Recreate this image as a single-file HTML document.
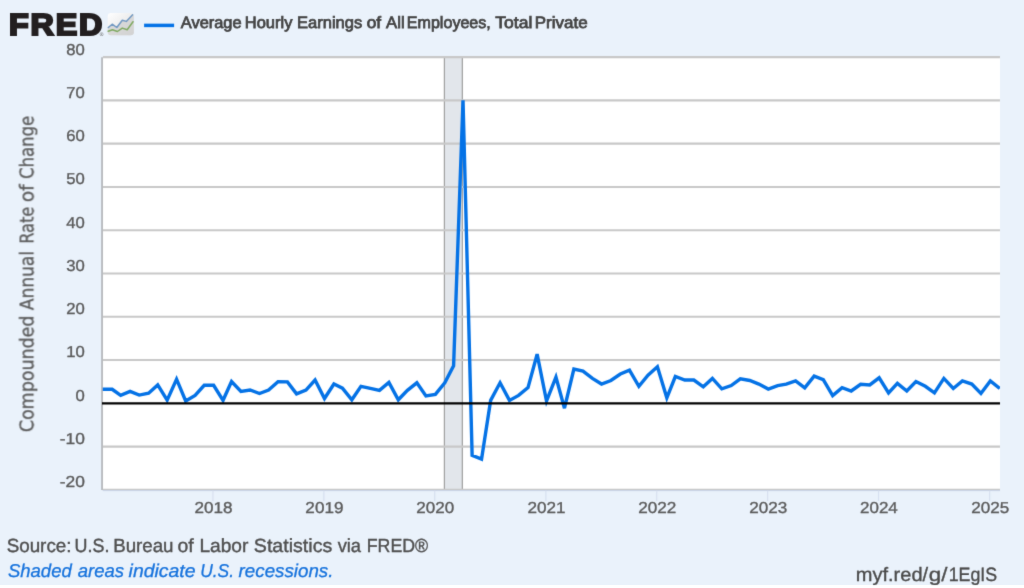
<!DOCTYPE html>
<html lang="en">
<head>
<meta charset="utf-8">
<title>Average Hourly Earnings of All Employees, Total Private</title>
<style>
html,body{margin:0;padding:0;background:#ffffff;}
body{width:1024px;height:588px;overflow:hidden;}
svg{display:block;}
text{font-family:"Liberation Sans","DejaVu Sans",sans-serif;text-rendering:geometricPrecision;}
.ax{font-size:15.8px;fill:#5a5a5a;stroke:#5a5a5a;stroke-width:0.35px;}
.ytitle{font-family:"DejaVu Sans Condensed","DejaVu Sans","Liberation Sans",sans-serif;font-stretch:condensed;font-size:19px;fill:#595959;stroke:#595959;stroke-width:0.3px;}
.legend{font-size:16.4px;fill:#434343;stroke:#434343;stroke-width:0.75px;}
.src{font-size:18.9px;fill:#4f4f4f;stroke:#4f4f4f;stroke-width:0.4px;}
.note{font-size:18.5px;font-style:italic;fill:#1672dc;stroke:#1672dc;stroke-width:0.3px;}
.url{font-size:19.3px;fill:#4a4a4a;stroke:#4a4a4a;stroke-width:0.35px;}
.logo{font-size:30.5px;font-weight:bold;fill:#231f20;stroke:#231f20;stroke-width:2.2px;stroke-linejoin:miter;}
</style>
</head>
<body>
<svg width="1024" height="588" viewBox="0 0 1024 588">
<defs>
<linearGradient id="ig" x1="0" y1="0" x2="1" y2="1">
<stop offset="0" stop-color="#ffffff"/><stop offset="0.55" stop-color="#ececec"/><stop offset="1" stop-color="#d2d2d2"/>
</linearGradient>
<clipPath id="pc"><rect x="102.0" y="57.1" width="898.0" height="432.6"/></clipPath>
<clipPath id="bc"><rect x="0" y="0" width="1024" height="585"/></clipPath>
<filter id="soft" filterUnits="userSpaceOnUse" x="0" y="0" width="1024" height="588" color-interpolation-filters="sRGB"><feConvolveMatrix order="3" kernelMatrix="0.0113 0.0838 0.0113 0.0838 0.6193 0.0838 0.0113 0.0838 0.0113" edgeMode="duplicate" preserveAlpha="false"/></filter>
</defs>
<rect x="0" y="0" width="1024" height="588" fill="#ffffff"/>
<rect x="0" y="0" width="1024" height="585" fill="#eaf2fb"/>
<g filter="url(#soft)">
<rect x="102.0" y="57.1" width="898.0" height="432.6" fill="#ffffff"/>
<rect x="444.40" y="57.1" width="17.95" height="432.6" fill="#e2e6eb"/>
<line x1="444.40" y1="57.1" x2="444.40" y2="489.7" stroke="#a2a2a2" stroke-width="1.25"/>
<line x1="462.35" y1="57.1" x2="462.35" y2="489.7" stroke="#a2a2a2" stroke-width="1.25"/>
<line x1="102.9" y1="489.80" x2="1000.0" y2="489.80" stroke="#c8c8c8" stroke-width="2.2"/>
<line x1="102.9" y1="446.54" x2="1000.0" y2="446.54" stroke="#c8c8c8" stroke-width="2.2"/>
<line x1="102.9" y1="360.02" x2="1000.0" y2="360.02" stroke="#c8c8c8" stroke-width="2.2"/>
<line x1="102.9" y1="316.76" x2="1000.0" y2="316.76" stroke="#c8c8c8" stroke-width="2.2"/>
<line x1="102.9" y1="273.50" x2="1000.0" y2="273.50" stroke="#c8c8c8" stroke-width="2.2"/>
<line x1="102.9" y1="230.24" x2="1000.0" y2="230.24" stroke="#c8c8c8" stroke-width="2.2"/>
<line x1="102.9" y1="186.98" x2="1000.0" y2="186.98" stroke="#c8c8c8" stroke-width="2.2"/>
<line x1="102.9" y1="143.72" x2="1000.0" y2="143.72" stroke="#c8c8c8" stroke-width="2.2"/>
<line x1="102.9" y1="100.46" x2="1000.0" y2="100.46" stroke="#c8c8c8" stroke-width="2.2"/>
<line x1="102.9" y1="57.20" x2="1000.0" y2="57.20" stroke="#c8c8c8" stroke-width="2.2"/>
<line x1="102.05" y1="57.3" x2="102.05" y2="490.1" stroke="#acafb3" stroke-width="1.6"/>
<line x1="102.8" y1="490.60" x2="1000.0" y2="490.60" stroke="#c9d4e9" stroke-width="1"/>
<line x1="212.97" y1="490.7" x2="212.97" y2="501.0" stroke="#d7e0f0" stroke-width="1.2"/>
<line x1="323.84" y1="490.7" x2="323.84" y2="501.0" stroke="#d7e0f0" stroke-width="1.2"/>
<line x1="434.72" y1="490.7" x2="434.72" y2="501.0" stroke="#d7e0f0" stroke-width="1.2"/>
<line x1="545.89" y1="490.7" x2="545.89" y2="501.0" stroke="#d7e0f0" stroke-width="1.2"/>
<line x1="656.76" y1="490.7" x2="656.76" y2="501.0" stroke="#d7e0f0" stroke-width="1.2"/>
<line x1="767.64" y1="490.7" x2="767.64" y2="501.0" stroke="#d7e0f0" stroke-width="1.2"/>
<line x1="878.51" y1="490.7" x2="878.51" y2="501.0" stroke="#d7e0f0" stroke-width="1.2"/>
<line x1="989.68" y1="490.7" x2="989.68" y2="501.0" stroke="#d7e0f0" stroke-width="1.2"/>
<polyline clip-path="url(#pc)" fill="none" stroke="#0472e6" stroke-width="3.4" stroke-linejoin="miter" stroke-miterlimit="4" stroke-linecap="butt" points="102.75,389.25 112.17,389.25 120.67,395.40 130.09,391.40 139.20,395.10 148.62,393.20 157.73,384.90 167.15,400.20 176.56,379.20 185.68,401.00 195.09,395.40 204.21,385.30 213.62,385.30 223.04,400.30 231.54,381.50 240.96,391.40 250.07,390.00 259.49,393.50 268.60,390.00 278.02,381.80 287.44,381.90 296.55,393.90 305.96,390.10 315.08,380.00 324.49,398.50 333.91,384.00 342.42,388.10 351.83,399.80 360.95,386.30 370.36,388.40 379.47,390.30 388.89,382.40 398.31,399.80 407.42,390.30 416.84,382.80 425.95,396.00 435.37,394.40 444.78,382.80 453.59,365.80 463.01,100.30 472.12,455.40 481.54,459.20 490.65,400.40 500.07,382.80 509.48,400.40 518.60,395.40 528.01,387.60 537.13,354.20 546.54,401.00 555.96,377.20 564.46,408.20 573.88,369.00 582.99,371.10 592.41,378.40 601.52,384.05 610.94,380.50 620.36,374.00 629.47,370.20 638.88,386.30 648.00,375.20 657.41,366.70 666.83,397.80 675.34,376.50 684.75,380.00 693.86,380.00 703.28,386.80 712.39,378.40 721.81,388.80 731.23,385.60 740.34,378.80 749.76,380.50 758.87,384.05 768.29,389.10 777.70,385.60 786.21,384.05 795.62,380.90 804.74,387.80 814.15,376.10 823.27,379.60 832.68,395.60 842.10,387.60 851.21,391.00 860.63,384.30 869.74,384.90 879.16,377.80 888.57,392.90 897.38,383.40 906.80,391.00 915.91,381.50 925.33,386.30 934.44,392.90 943.86,378.40 953.27,388.50 962.39,380.90 971.80,384.05 980.92,393.50 990.33,380.90 999.75,388.50"/>
<line x1="102.0" y1="403.30" x2="1000.0" y2="403.30" stroke="#000000" stroke-width="2.2"/>
<text class="ax" x="59.76" y="487.10" textLength="25.12" lengthAdjust="spacingAndGlyphs">-20</text>
<text class="ax" x="59.76" y="443.84" textLength="25.12" lengthAdjust="spacingAndGlyphs">-10</text>
<text class="ax" x="75.57" y="400.58" textLength="9.27" lengthAdjust="spacingAndGlyphs">0</text>
<text class="ax" x="66.31" y="357.32" textLength="18.54" lengthAdjust="spacingAndGlyphs">10</text>
<text class="ax" x="66.31" y="314.06" textLength="18.54" lengthAdjust="spacingAndGlyphs">20</text>
<text class="ax" x="66.31" y="270.80" textLength="18.54" lengthAdjust="spacingAndGlyphs">30</text>
<text class="ax" x="66.31" y="227.54" textLength="18.54" lengthAdjust="spacingAndGlyphs">40</text>
<text class="ax" x="66.31" y="184.28" textLength="18.54" lengthAdjust="spacingAndGlyphs">50</text>
<text class="ax" x="66.31" y="141.02" textLength="18.54" lengthAdjust="spacingAndGlyphs">60</text>
<text class="ax" x="66.31" y="97.76" textLength="18.54" lengthAdjust="spacingAndGlyphs">70</text>
<text class="ax" x="66.31" y="54.50" textLength="18.54" lengthAdjust="spacingAndGlyphs">80</text>
<text class="ax" x="194.52" y="512.5" textLength="37.99" lengthAdjust="spacingAndGlyphs">2018</text>
<text class="ax" x="305.39" y="512.5" textLength="38.06" lengthAdjust="spacingAndGlyphs">2019</text>
<text class="ax" x="416.26" y="512.5" textLength="37.91" lengthAdjust="spacingAndGlyphs">2020</text>
<text class="ax" x="527.44" y="512.5" textLength="38.09" lengthAdjust="spacingAndGlyphs">2021</text>
<text class="ax" x="638.31" y="512.5" textLength="38.12" lengthAdjust="spacingAndGlyphs">2022</text>
<text class="ax" x="749.18" y="512.5" textLength="38.00" lengthAdjust="spacingAndGlyphs">2023</text>
<text class="ax" x="860.06" y="512.5" textLength="37.74" lengthAdjust="spacingAndGlyphs">2024</text>
<text class="ax" x="971.23" y="512.5" textLength="37.96" lengthAdjust="spacingAndGlyphs">2025</text>
<text class="ytitle" transform="translate(33.4,432.2) rotate(-90)"><tspan x="0.00" textLength="116.70" lengthAdjust="spacingAndGlyphs">Compounded</tspan> <tspan x="122.00" textLength="59.20" lengthAdjust="spacingAndGlyphs">Annual</tspan> <tspan x="188.60" textLength="36.80" lengthAdjust="spacingAndGlyphs">Rate</tspan> <tspan x="230.00" textLength="17.90" lengthAdjust="spacingAndGlyphs">of</tspan> <tspan x="253.30" textLength="63.10" lengthAdjust="spacingAndGlyphs">Change</tspan></text>
<g transform="translate(9.0,34.5) scale(1.058,1)"><text class="logo" x="0" y="0" letter-spacing="1.73">FRED</text></g>
<text x="99.7" y="35.6" font-size="5px" fill="#555555">®</text>
<g transform="translate(0,0.4)">
<rect x="107.7" y="12.5" width="26.1" height="22.3" rx="3.2" ry="3.2" fill="url(#ig)"/>
<path d="M107.7,27.5 L112.2,23.8 L116.8,27.1 L122.3,19.8 L126.3,21 L132.4,14.6 L133.8,14.6 L133.8,31.6 Q133.8,34.8 130.6,34.8 L110.9,34.8 Q107.7,34.8 107.7,31.6 Z" fill="#d2d2d2" opacity="0.8"/>
<polyline points="108.3,27.1 112.2,23.8 116.8,27.1 122.3,19.8 126.3,21 132.6,14.4" fill="none" stroke="#7299c2" stroke-width="1.5" stroke-linejoin="round" stroke-linecap="round"/>
<polyline points="108.2,30.9 112.5,29.3 117.4,31.1 122.3,27.7 127.2,29.3 133,21.3" fill="none" stroke="#80aa63" stroke-width="1.5" stroke-linejoin="round" stroke-linecap="round"/>
</g>
<line x1="144.1" y1="25.4" x2="174.1" y2="25.4" stroke="#0472e6" stroke-width="3.5"/>
<text class="legend" y="28.00"><tspan x="180.83" textLength="60.75" lengthAdjust="spacingAndGlyphs">Average</tspan> <tspan x="244.80" textLength="47.58" lengthAdjust="spacingAndGlyphs">Hourly</tspan> <tspan x="297.10" textLength="65.14" lengthAdjust="spacingAndGlyphs">Earnings</tspan> <tspan x="366.73" textLength="14.39" lengthAdjust="spacingAndGlyphs">of</tspan> <tspan x="386.12" textLength="18.54" lengthAdjust="spacingAndGlyphs">All</tspan> <tspan x="406.83" textLength="83.96" lengthAdjust="spacingAndGlyphs">Employees,</tspan> <tspan x="495.26" textLength="37.06" lengthAdjust="spacingAndGlyphs">Total</tspan> <tspan x="534.76" textLength="52.84" lengthAdjust="spacingAndGlyphs">Private</tspan></text>
<text class="src" y="551.75"><tspan x="6.65" textLength="64.86" lengthAdjust="spacingAndGlyphs">Source:</tspan> <tspan x="74.62" textLength="34.80" lengthAdjust="spacingAndGlyphs">U.S.</tspan> <tspan x="113.16" textLength="60.37" lengthAdjust="spacingAndGlyphs">Bureau</tspan> <tspan x="177.40" textLength="16.18" lengthAdjust="spacingAndGlyphs">of</tspan> <tspan x="199.43" textLength="48.99" lengthAdjust="spacingAndGlyphs">Labor</tspan> <tspan x="253.82" textLength="78.49" lengthAdjust="spacingAndGlyphs">Statistics</tspan> <tspan x="337.64" textLength="23.45" lengthAdjust="spacingAndGlyphs">via</tspan> <tspan x="366.75" textLength="61.33" lengthAdjust="spacingAndGlyphs">FRED®</tspan></text>
<text class="note" y="577.25"><tspan x="7.93" textLength="63.82" lengthAdjust="spacingAndGlyphs">Shaded</tspan> <tspan x="77.74" textLength="46.29" lengthAdjust="spacingAndGlyphs">areas</tspan> <tspan x="128.64" textLength="66.93" lengthAdjust="spacingAndGlyphs">indicate</tspan> <tspan x="200.15" textLength="33.82" lengthAdjust="spacingAndGlyphs">U.S.</tspan> <tspan x="238.64" textLength="94.80" lengthAdjust="spacingAndGlyphs">recessions.</tspan></text>
<text class="url" y="580.60" clip-path="url(#bc)"><tspan x="855.78" textLength="72.32" lengthAdjust="spacingAndGlyphs">myf.red/</tspan><tspan x="928.87" textLength="18.63" lengthAdjust="spacingAndGlyphs">g/</tspan><tspan x="948.65" textLength="48.46" lengthAdjust="spacingAndGlyphs">1EgIS</tspan></text>
</g>
</svg>
</body>
</html>
